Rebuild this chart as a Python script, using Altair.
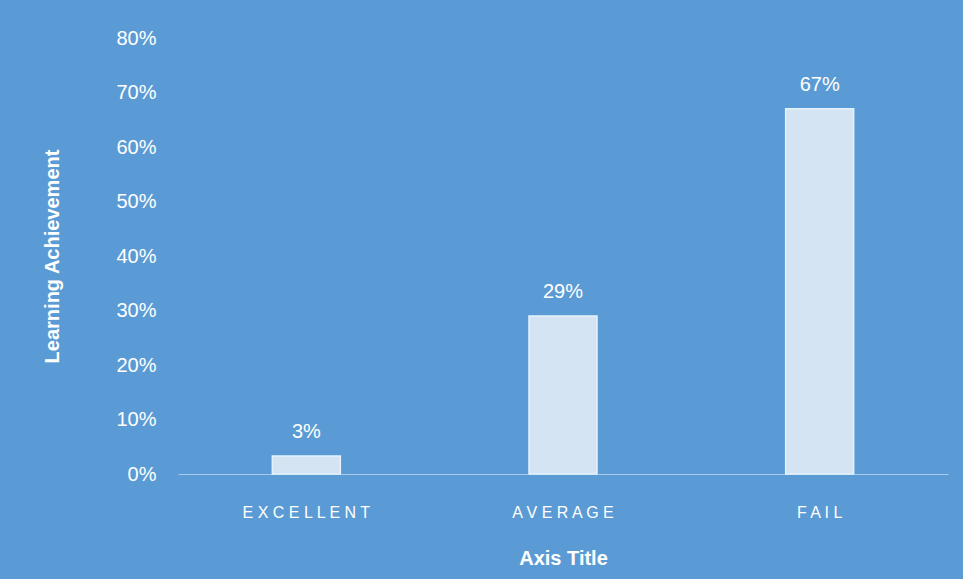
import altair as alt
import pandas as pd

categories = ["EXCELLENT", "AVERAGE", "FAIL"]
values = [0.033, 0.29, 0.67]
labels = ["3%", "29%", "67%"]

df = pd.DataFrame({"cat": categories, "val": values, "lab": labels})

BG = "#5b9bd5"
FONT = "Liberation Sans"

x = alt.X(
    "cat:N",
    sort=categories,
    scale=alt.Scale(paddingInner=0, paddingOuter=0),
    axis=alt.Axis(
        title="Axis Title",
        titleFont=FONT,
        titleFontSize=20,
        titleFontWeight="bold",
        titleColor="white",
        titleX=385,
        titleY=84,
        titleBaseline="middle",
        labelAngle=0,
        labelFont=FONT,
        labelFontSize=16,
        labelColor="white",
        labelPadding=30,
        labelExpr="join(split(datum.label, ''), ' ')",
        ticks=False,
        domainColor="#a9c9ea",
        domainWidth=1,
        grid=False,
    ),
)

y = alt.Y(
    "val:Q",
    scale=alt.Scale(domain=[0, 0.8]),
    axis=alt.Axis(
        title="Learning Achievement",
        titleFont=FONT,
        titleFontSize=20,
        titleFontWeight="bold",
        titleColor="white",
        titleX=-126,
        titleY=218,
        titleAngle=-90,
        titleBaseline="middle",
        titleAlign="center",
        format=".0%",
        values=[0, 0.1, 0.2, 0.3, 0.4, 0.5, 0.6, 0.7, 0.8],
        labelFont=FONT,
        labelFontSize=20,
        labelColor="white",
        labelPadding=22,
        ticks=False,
        domain=False,
        grid=False,
    ),
)

bars = alt.Chart(df).mark_bar(
    size=68, fill="#d4e4f3", stroke="#e4f2fd", strokeWidth=1.5
).encode(x=x, y=y)

text = alt.Chart(df).mark_text(
    font=FONT, fontSize=20, color="white", dy=-18, baseline="alphabetic"
).encode(x=alt.X("cat:N", sort=categories), y="val:Q", text="lab:N")

chart = (
    alt.layer(bars, text)
    .properties(
        width=770,
        height=436,
        background=BG,
        padding={"left": 178, "top": 38, "right": 15, "bottom": 105},
        autosize=alt.AutoSizeParams(type="none"),
    )
    .configure_view(stroke=None)
)

chart.save("out.html", embed_options={"renderer": "svg", "actions": False})
